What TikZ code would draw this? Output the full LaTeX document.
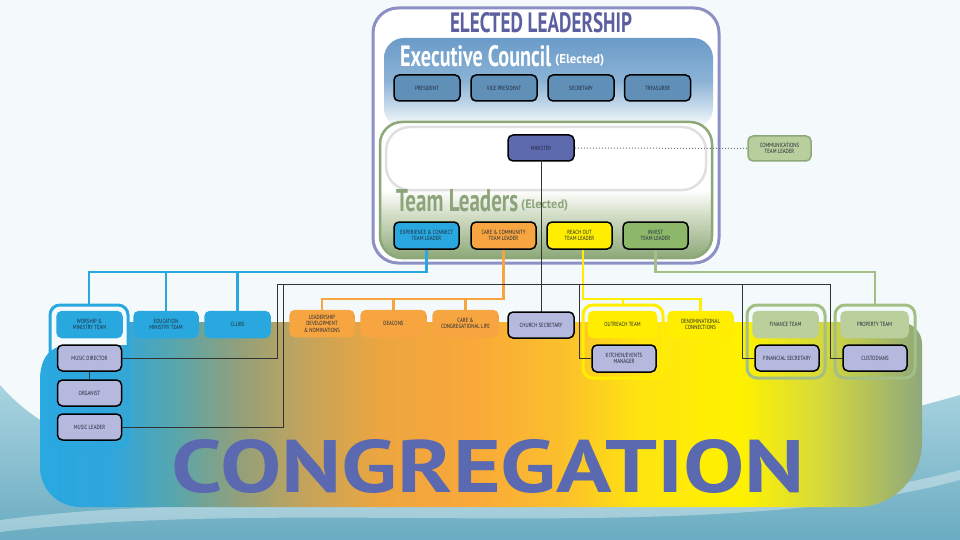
\documentclass[tikz,border=0pt]{standalone}
\usepackage{fontspec}
\setmainfont{PT Sans}
\newfontfamily\boxfont[FakeStretch=0.8]{PT Sans}
\usepackage{graphicx}
\definecolor{bgc}{HTML}{F4FAFC}
\definecolor{lavline}{HTML}{8C90C4}
\definecolor{titlec}{HTML}{5B5F9F}
\definecolor{teamc}{HTML}{8CA47A}
\definecolor{ex1}{HTML}{6A9BC8}
\definecolor{ex2}{HTML}{8CB3D6}
\definecolor{ex3}{HTML}{C8DBEB}
\definecolor{tg2}{HTML}{D2DDC6}
\definecolor{tg3}{HTML}{8DA878}
\definecolor{exfill}{HTML}{6090B8}
\definecolor{minfill}{HTML}{5E6AAE}
\definecolor{commfill}{HTML}{B9CE9D}
\definecolor{greenline}{HTML}{8DA878}
\definecolor{cblue}{HTML}{29A8E0}
\definecolor{corange}{HTML}{F7A541}
\definecolor{cyellow}{HTML}{FFEE00}
\definecolor{cgreen}{HTML}{8DB86A}
\definecolor{lightgreen}{HTML}{BACF9C}
\definecolor{grpgreen}{HTML}{A3BF86}
\definecolor{lavfill}{HTML}{B5B9DD}
\definecolor{txt}{HTML}{1E2636}
\definecolor{congtext}{HTML}{5B6AB0}
\definecolor{wave1}{HTML}{A9D3DF}
\definecolor{wave2}{HTML}{62A7BE}
\definecolor{cg1}{HTML}{2AA8E0}
\definecolor{cg2}{HTML}{2FA6DC}
\definecolor{cg3}{HTML}{55A6B0}
\definecolor{cg4}{HTML}{92A07A}
\definecolor{cg5}{HTML}{C0A45E}
\definecolor{cg6}{HTML}{EDA53F}
\definecolor{cg7}{HTML}{F9A83A}
\definecolor{cg8}{HTML}{FBBF2C}
\definecolor{cg9}{HTML}{FFE410}
\definecolor{cg10}{HTML}{FFF200}
\definecolor{cg11}{HTML}{D6D93B}
\definecolor{cg12}{HTML}{8EA87C}
\pgfdeclarehorizontalshading{congr}{100bp}{color(0bp)=(cg1); color(25bp)=(cg1); color(29bp)=(cg2); color(32.4bp)=(cg3); color(36.3bp)=(cg4); color(39.7bp)=(cg5); color(44.3bp)=(cg6); color(49.4bp)=(cg7); color(54.5bp)=(cg8); color(59bp)=(cg9); color(64.7bp)=(cg10); color(69.2bp)=(cg11); color(75bp)=(cg12); color(100bp)=(cg12)}
\pgfdeclareverticalshading{execsh}{100bp}{color(0bp)=(white); color(25bp)=(white); color(36.5bp)=(ex3); color(50.9bp)=(ex2); color(75bp)=(ex1); color(100bp)=(ex1)}
\pgfdeclareverticalshading{teamsh}{100bp}{color(0bp)=(tg3); color(25bp)=(tg3); color(40.8bp)=(tg2); color(50bp)=(white); color(100bp)=(white)}
\begin{document}
\begin{tikzpicture}[x=1pt,y=-1pt,
  box/.style={rectangle, rounded corners=5pt, line width=1.5pt, align=center, inner sep=1pt,
    font=\boxfont\fontsize{6}{6.6}\selectfont, text=txt},
  exbox/.style={box, draw=black, fill=exfill, minimum width=66pt, minimum height=26pt},
  lav/.style={box, draw=black, fill=lavfill, minimum height=26pt},
  bluebox/.style={box, draw=cblue, fill=cblue, minimum height=26pt},
  orbox/.style={box, draw=corange, fill=corange, minimum height=26pt},
  yelbox/.style={box, draw=cyellow, fill=cyellow, minimum height=26pt},
  grbox/.style={box, draw=lightgreen, fill=lightgreen, minimum height=26pt},
  tlbox/.style={box, draw=black, minimum width=65pt, minimum height=27pt},
  grp/.style={rectangle, rounded corners=10pt, line width=3pt},
  blueline/.style={draw=cblue, line width=2.5pt},
  orline/.style={draw=corange, line width=2.5pt},
  yelline/.style={draw=cyellow, line width=2.5pt},
  grline/.style={draw=grpgreen, line width=2.5pt},
  blk/.style={draw=black!80, line width=0.9pt}
]
\useasboundingbox (0,0) rectangle (960,540);
% background
\fill[bgc] (0,0) rectangle (960,540);
\shade[top color=wave1, bottom color=wave2] (0,385) .. controls (150,560) and (700,470) .. (960,395) -- (960,540) -- (0,540) -- cycle;
\fill[white, opacity=0.35] (0,520) .. controls (300,480) and (700,540) .. (960,470) -- (960,480) .. controls (700,550) and (300,495) .. (0,532) -- cycle;
% congregation shape
\shade[shading=congr] (128,322) -- (900,322) arc[start angle=-90, end angle=0, radius=22] -- (922,442) arc[start angle=0, end angle=90, radius=65] -- (80,507) arc[start angle=90, end angle=180, radius=40] -- (40,380) .. controls (40,358) and (50,345) .. (70,345) -- (128,345) -- cycle;
\node[text=congtext, inner sep=0pt] (congr) at (488.5,466.5) {\resizebox{633pt}{53pt}{\bfseries CONGREGATION}};
% elected leadership panel
\draw[lavline, line width=3pt, fill=white, rounded corners=25pt] (373,8) rectangle (719,263);
\node[text=titlec, inner sep=0pt] (eltitle) at (541,23) {\resizebox{182pt}{20pt}{\bfseries ELECTED LEADERSHIP}};
\shade[shading=execsh, rounded corners=20pt] (384,38) rectangle (713,128);
\node[text=white, inner sep=0pt, anchor=south west] (extitle) at (400,67) {\resizebox{151pt}{21pt}{\bfseries Executive Council}};
\node[text=white, inner sep=0pt, anchor=south west] (exel) at (555,67) {\resizebox{49pt}{!}{\bfseries (Elected)}};
\shade[shading=teamsh, rounded corners=22pt] (380,122) rectangle (712,258);
\draw[greenline, line width=2.5pt, rounded corners=22pt] (380,122) rectangle (712,258);
\draw[black!12, line width=2.5pt, fill=white, rounded corners=24pt] (386,127) rectangle (706,190);
\node[text=teamc, inner sep=0pt, anchor=south west] (tltitle) at (396,212) {\resizebox{122pt}{22pt}{\bfseries Team Leaders}};
\node[text=teamc, inner sep=0pt, anchor=west] (tlel) at (521,205) {\resizebox{47pt}{!}{\bfseries (Elected)}};
% executive boxes
\node[exbox] (pres) at (427,88) {PRESIDENT};
\node[exbox] (vp) at (504,88) {VICE PRESIDENT};
\node[exbox] (sec) at (581,88) {SECRETARY};
\node[exbox] (treas) at (657.5,88) {TREASURER};
\node[exbox, fill=minfill] (min) at (541,148) {MINISTER};
\node[box, draw=greenline, fill=commfill, minimum width=63pt, minimum height=25pt] (comm) at (779.5,148.5) {COMMUNICATIONS\\TEAM LEADER};
% team leaders
\node[tlbox, fill=cblue] (exp) at (426.5,235.5) {EXPERIENCE \& CONNECT\\TEAM LEADER};
\node[tlbox, fill=corange] (care) at (503.5,235.5) {CARE \& COMMUNITY\\TEAM LEADER};
\node[tlbox, fill=cyellow] (reach) at (579.5,235.5) {REACH OUT\\TEAM LEADER};
\node[tlbox, fill=cgreen] (inv) at (655.5,235.5) {INVEST\\TEAM LEADER};
% group outlines
\node[grp, draw=cblue, minimum width=78pt, minimum height=142pt] (wgrp) at (89,376) {};
\node[grp, draw=cyellow, minimum width=80pt, minimum height=73pt] (ogrp) at (623,341.5) {};
\node[grp, draw=grpgreen, minimum width=78pt, minimum height=73pt] (fgrp) at (786,341.5) {};
\node[grp, draw=grpgreen, minimum width=80pt, minimum height=73pt] (pgrp) at (875,341.5) {};
% coordinates for connector rails
\coordinate (bj) at (0,272);
\coordinate (oj) at (0,299);
\coordinate (k1) at (277,284);
\coordinate (k2) at (283,284);
\coordinate (k3) at (579,284);
\coordinate (k4) at (742,284);
\coordinate (k5) at (830,284);
\draw[blueline] (exp.south) -- (exp.south |- bj) -| (wgrp.north);
\draw[blueline] (166,324.5) -- (166,272);
\draw[blueline] (237.5,324.5) -- (237.5,272);
\draw[orline] (care.south) -- (care.south |- oj) -| (322,323.5);
\draw[orline] (393.5,323.5) -- (393.5,299);
\draw[orline] (465.5,323.5) -- (465.5,299);
\draw[yelline] ([xshift=3.5pt]reach.south) -- ([xshift=3.5pt]reach.south |- oj) -| (700.5,324.5);
\draw[yelline] (ogrp.north) -- (ogrp.north |- oj);
\draw[grline] (inv.south) -- (inv.south |- bj) -| (pgrp.north);
\draw[blk] (min.south) -- (541,325);
\draw[black!55, line width=1pt, dotted] (min.east) -- (comm.west);
\node[bluebox, minimum width=65pt] (wor) at (89.5,324.5) {WORSHIP \&\\MINISTRY TEAM};
\node[bluebox, minimum width=64pt] (edu) at (166,324.5) {EDUCATION\\MINISTRY TEAM};
\node[bluebox, minimum width=65pt] (clubs) at (237.5,324.5) {CLUBS};
\node[lav, minimum width=64pt] (mdir) at (89.5,358) {MUSIC DIRECTOR};
\node[lav, minimum width=64pt] (org) at (89.5,393) {ORGANIST};
\node[lav, minimum width=64pt] (mlead) at (89.5,427) {MUSIC LEADER};
\node[orbox, minimum width=64pt] (lead) at (322,323.5) {LEADERSHIP\\DEVELOPMENT\\\& NOMINATIONS};
\node[orbox, minimum width=65pt] (deac) at (393.5,323.5) {DEACONS};
\node[orbox, minimum width=65pt] (carec) at (465.5,323.5) {CARE \&\\CONGREGATIONAL LIFE};
\node[lav, minimum width=66pt] (csec) at (541,325) {CHURCH SECRETARY};
\node[yelbox, minimum width=68pt] (outr) at (622.5,324.5) {OUTREACH TEAM};
\node[lav, minimum width=64pt, minimum height=27pt] (kitch) at (624,358.5) {KITCHEN/EVENTS\\MANAGER};
\node[yelbox, minimum width=65pt] (denom) at (700.5,324.5) {DENOMINATIONAL\\CONNECTIONS};
\node[grbox, minimum width=65pt] (fin) at (785.5,324.5) {FINANCE TEAM};
\node[lav, minimum width=64pt] (fsec) at (787,358) {FINANCIAL SECRETARY};
\node[grbox, minimum width=67pt] (prop) at (874.5,324.5) {PROPERTY TEAM};
\node[lav, minimum width=64pt] (cust) at (875,358) {CUSTODIANS};
% black connectors
\draw[blk] (mdir.east) -| (k1) -- (k5) |- (cust.west);
\draw[blk] (mlead.east) -| (k2);
\draw[blk] (k3) |- (kitch.west);
\draw[blk] (k4) |- (fsec.west);
\draw[blk] (mdir.south) -- (org.north);
\end{tikzpicture}
\end{document}
